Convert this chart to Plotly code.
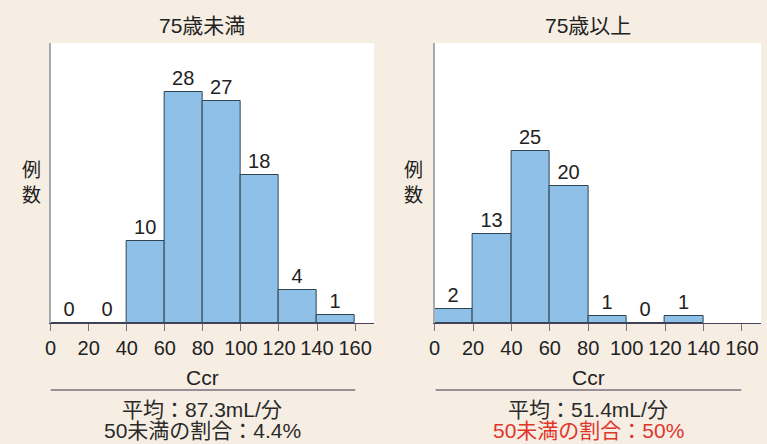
import plotly.graph_objects as go

# Data
bin_starts = [0, 20, 40, 60, 80, 100, 120, 140]
counts_under75 = [0, 0, 10, 28, 27, 18, 4, 1]
bin_starts_over = [0, 20, 40, 60, 80, 100, 120]
counts_over75 = [2, 13, 25, 20, 1, 0, 1]
tick_vals = [0, 20, 40, 60, 80, 100, 120, 140, 160]
titles = ["75歳未満", "75歳以上"]
mean_texts = ["平均：87.3mL/分", "平均：51.4mL/分"]
ratio_texts = ["50未満の割合：4.4%", "50未満の割合：50%"]
ratio_colors = ["#2a2a2a", "#e0352b"]

W, H = 767, 444
FONT = "Liberation Sans, Noto Sans CJK JP, sans-serif"
BAR = "#8fc0e8"
EDGE = "#2f4550"
FS = 20

fig = go.Figure()
fig.add_trace(go.Bar(x=bin_starts, y=counts_under75, width=20, offset=0,
                     marker=dict(color=BAR, line=dict(color=EDGE, width=1)),
                     text=[str(c) for c in counts_under75], textposition="outside",
                     cliponaxis=False,
                     textfont=dict(size=FS, color="#222", family=FONT),
                     xaxis="x", yaxis="y", showlegend=False))
fig.add_trace(go.Bar(x=bin_starts_over, y=counts_over75, width=20, offset=0,
                     marker=dict(color=BAR, line=dict(color=EDGE, width=1)),
                     text=[str(c) for c in counts_over75], textposition="outside",
                     cliponaxis=False,
                     textfont=dict(size=FS, color="#222", family=FONT),
                     xaxis="x2", yaxis="y2", showlegend=False))

dom_left = [45 / W, 371 / W]
dom_right = [432 / W, 761 / W]
ydom = [1 - 323 / H, 1 - 43 / H]

xcommon = dict(range=[0, 170], tickvals=tick_vals, ticks="outside", ticklen=7,
               tickcolor="#777", showline=True, linecolor="#4a3f5e", linewidth=1,
               showgrid=False, zeroline=False, fixedrange=True,
               tickfont=dict(size=FS, color="#222", family=FONT))
ycommon = dict(showticklabels=False, ticks="", showgrid=False, zeroline=False,
               showline=True, linecolor="#aaa", linewidth=1.5)

fig.update_layout(
    width=W, height=H,
    margin=dict(l=0, r=0, t=0, b=0),
    paper_bgcolor="#f6eee3",
    plot_bgcolor="#ffffff",
    bargap=0,
    font=dict(family=FONT, color="#222"),
    xaxis=dict(domain=dom_left, anchor="y", **xcommon),
    yaxis=dict(domain=ydom, range=[0, 34], anchor="x", **ycommon),
    xaxis2=dict(domain=dom_right, anchor="y2", **xcommon),
    yaxis2=dict(domain=ydom, range=[0, 40.8], anchor="x2", **ycommon),
)


def ann(x, y, text, size=FS, color="#222"):
    fig.add_annotation(x=x / W, y=1 - y / H, xref="paper", yref="paper",
                       xanchor="center", yanchor="middle", borderpad=0,
                       text=text, showarrow=False,
                       font=dict(size=size, color=color, family=FONT))


centers = [198, 587]
for i in range(2):
    ann(centers[i], 26, titles[i], size=21)
    ann(centers[i], 377, "Ccr", size=21)
    ann(centers[i], 409, mean_texts[i], size=21, color="#2a2a2a")
    ann(centers[i], 430, ratio_texts[i], size=21, color=ratio_colors[i])

for xpx in [26, 411]:
    ann(xpx, 183, "例<br>数", size=19)

for x0, x1 in [(45, 352), (433, 741)]:
    fig.add_shape(type="line", xref="paper", yref="paper",
                  x0=x0 / W, x1=x1 / W, y0=1 - 390 / H, y1=1 - 390 / H,
                  line=dict(color="#3a3350", width=1.2))

fig.write_html("out.html")
